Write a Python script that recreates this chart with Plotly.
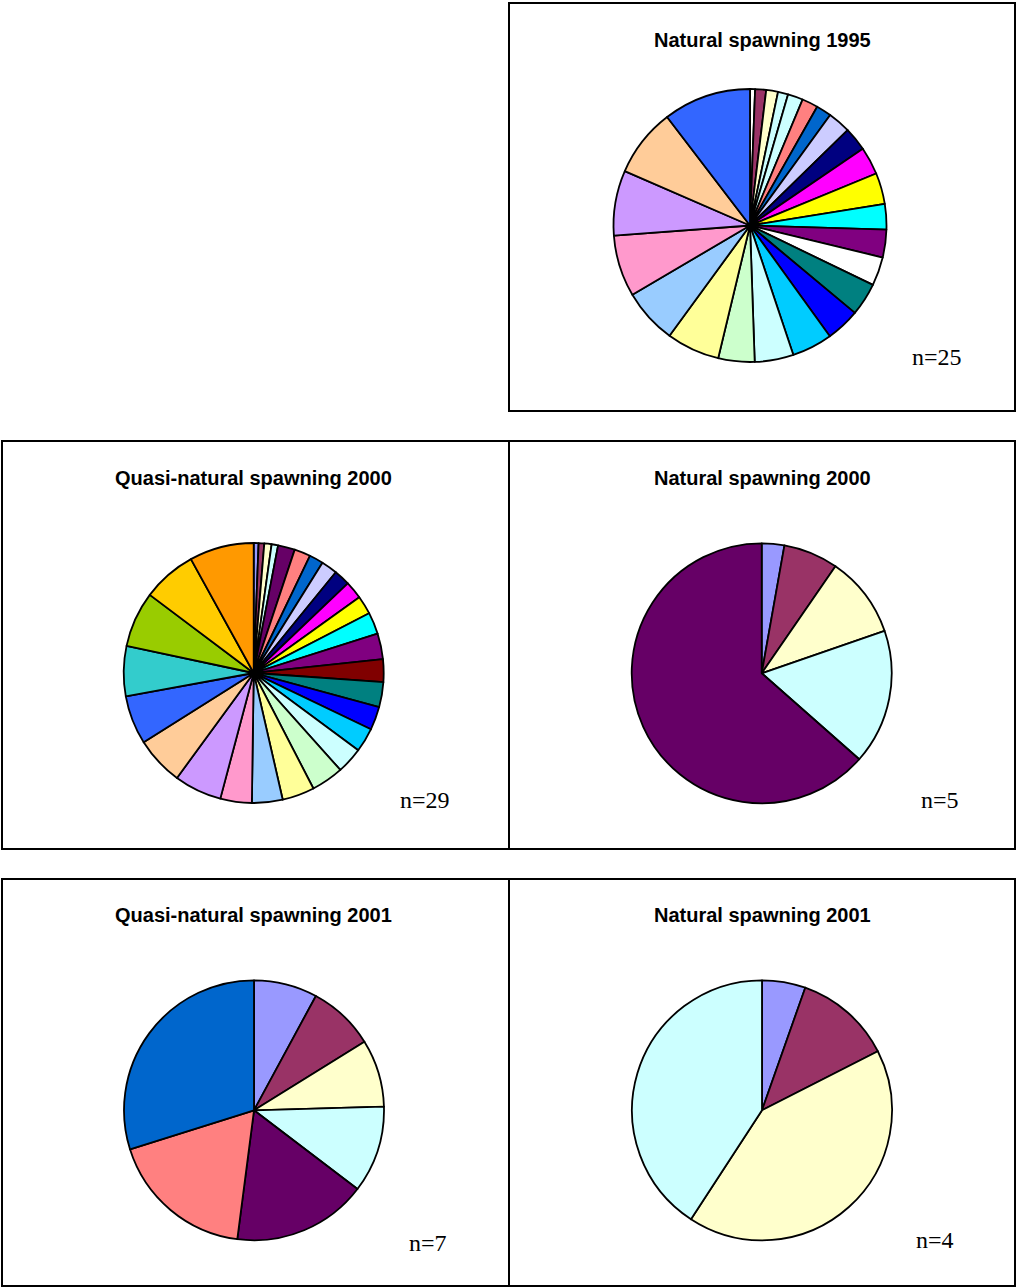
import plotly.graph_objects as go

W, H = 1016, 1287

# Standard chart fill sequence used by every pie
PALETTE = ["#9999FF", "#993366", "#FFFFCC", "#CCFFFF", "#660066", "#FF8080",
           "#0066CC", "#CCCCFF", "#000080", "#FF00FF", "#FFFF00", "#00FFFF",
           "#800080", "#800000", "#008080", "#0000FF", "#00CCFF", "#CCFFFF",
           "#CCFFCC", "#FFFF99", "#99CCFF", "#FF99CC", "#CC99FF", "#FFCC99",
           "#3366FF", "#33CCCC", "#99CC00", "#FFCC00", "#FF9900"]

# Shares (%) per parental group, clockwise from 12 o'clock
nat_1995 = [0.6, 1.3, 1.4, 1.2, 1.8, 1.9, 1.8, 2.7, 2.8, 3.3, 3.7, 3.0, 3.3,
            3.4, 3.9, 4.0, 4.8, 4.6, 4.3, 6.3, 6.5, 7.3, 7.7, 8.1, 10.4]
colors_1995 = ["#FFFFFF", "#993366", "#FFFFCC", "#CCFFFF", "#CCFFFF", "#FF8080",
               "#0066CC", "#CCCCFF", "#000080", "#FF00FF", "#FFFF00", "#00FFFF",
               "#800080", "#FFFFFF", "#008080", "#0000FF", "#00CCFF", "#CCFFFF",
               "#CCFFCC", "#FFFF99", "#99CCFF", "#FF99CC", "#CC99FF", "#FFCC99",
               "#3366FF"]

quasi_2000 = [0.6, 0.7, 0.9, 0.8, 2.1, 2.0, 1.75, 2.0, 2.0, 2.2, 2.3, 2.7, 3.2,
              2.8, 3.1, 2.9, 3.0, 3.25, 4.0, 4.0, 3.8, 3.9, 5.9, 6.0, 6.05, 6.2,
              6.9, 6.7, 8.0]
nat_2000 = [2.8, 6.8, 10.1, 16.8, 63.5]
quasi_2001 = [7.9, 8.25, 8.4, 10.8, 16.7, 18.1, 29.85]
nat_2001 = [5.4, 12.1, 41.7, 40.8]

titles = ["Natural spawning 1995", "Quasi-natural spawning 2000",
          "Natural spawning 2000", "Quasi-natural spawning 2001",
          "Natural spawning 2001"]
n_labels = ["n=25", "n=29", "n=5", "n=7", "n=4"]

# Panel layout in pixels: box (x0, y0, x1, y1), pie centre, radius,
# title centre, n-label centre
panels = [
    dict(vals=nat_1995, cols=colors_1995, box=(509, 3, 1015, 411),
         c=(750, 225.5), r=136.5, t=(762, 40), n=(937, 357)),
    dict(vals=quasi_2000, cols=PALETTE[:29], box=(2, 441, 509, 849),
         c=(253.7, 673), r=130, t=(253, 478), n=(425, 800)),
    dict(vals=nat_2000, cols=PALETTE[:5], box=(509, 441, 1015, 849),
         c=(761.7, 673.3), r=130, t=(762, 478), n=(940, 800)),
    dict(vals=quasi_2001, cols=PALETTE[:7], box=(2, 879, 509, 1286),
         c=(254, 1110.3), r=130, t=(253, 915), n=(428, 1243)),
    dict(vals=nat_2001, cols=PALETTE[:4], box=(509, 879, 1015, 1286),
         c=(762, 1110.3), r=130, t=(762, 915), n=(935, 1240)),
]

fig = go.Figure()
shapes, annotations = [], []

for p, title, nl in zip(panels, titles, n_labels):
    cx, cy = p["c"]
    r = p["r"]
    fig.add_trace(go.Pie(
        values=p["vals"],
        labels=[str(i + 1) for i in range(len(p["vals"]))],
        marker=dict(colors=p["cols"], line=dict(color="black", width=1.8)),
        sort=False, direction="clockwise", rotation=0,
        textinfo="none", hoverinfo="label+percent", showlegend=False,
        domain=dict(x=[(cx - r) / W, (cx + r) / W],
                    y=[1 - (cy + r) / H, 1 - (cy - r) / H]),
    ))
    x0, y0, x1, y1 = p["box"]
    shapes.append(dict(type="rect", xref="paper", yref="paper",
                       x0=x0 / W, x1=x1 / W, y0=1 - y1 / H, y1=1 - y0 / H,
                       line=dict(color="black", width=2)))
    annotations.append(dict(text="<b>" + title + "</b>", xref="paper", yref="paper",
                            x=p["t"][0] / W, y=1 - p["t"][1] / H,
                            xanchor="center", yanchor="middle", showarrow=False,
                            font=dict(family="Liberation Sans, Arial", size=20,
                                      color="black")))
    annotations.append(dict(text=nl, xref="paper", yref="paper",
                            x=p["n"][0] / W, y=1 - p["n"][1] / H,
                            xanchor="center", yanchor="middle", showarrow=False,
                            font=dict(family="Liberation Serif, Times New Roman",
                                      size=24, color="black")))

fig.update_layout(width=W, height=H, margin=dict(l=0, r=0, t=0, b=0),
                  paper_bgcolor="white", plot_bgcolor="white",
                  shapes=shapes, annotations=annotations)

fig.write_html("out.html")
